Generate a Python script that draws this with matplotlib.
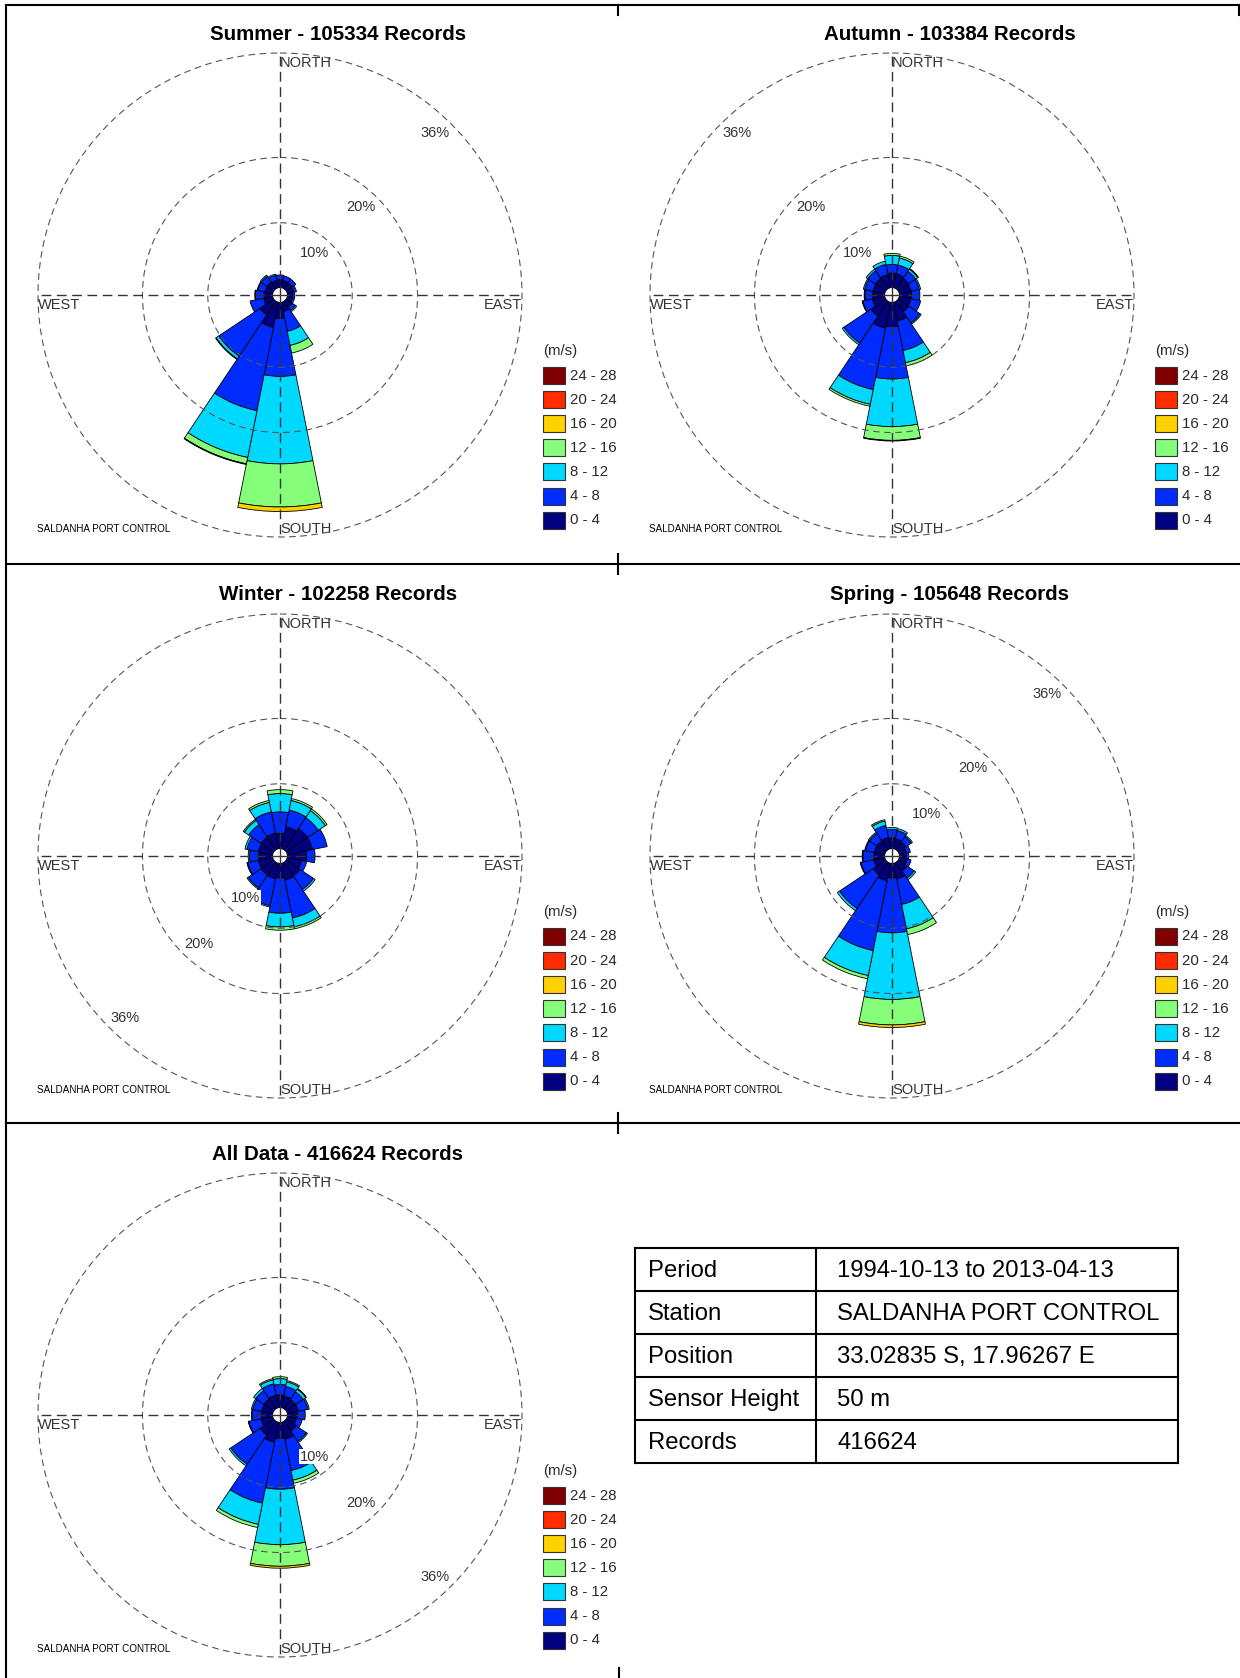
import numpy as np
import matplotlib
matplotlib.use('Agg')
import matplotlib.pyplot as plt
from matplotlib.transforms import offset_copy

plt.rcParams['font.family'] = ['Liberation Sans', 'DejaVu Sans']

W, H = 1240, 1678

directions = ['N', 'NNE', 'NE', 'ENE', 'E', 'ESE', 'SE', 'SSE',
              'S', 'SSW', 'SW', 'WSW', 'W', 'WNW', 'NW', 'NNW']
speed_bins = ['0 - 4', '4 - 8', '8 - 12', '12 - 16', '16 - 20', '20 - 24', '24 - 28']
rings = [10, 20, 36]

# frequency (%) : one row per speed bin, one column per direction (N clockwise)
summer = [
    [1.3, 1.2, 1.2, 1.1, 0.9, 0.9, 1.2, 1.5, 2.5, 4.0, 2.6, 1.5, 1.4, 1.3, 1.3, 1.2],
    [0.7, 0.7, 0.65, 0.4, 0.3, 0.3, 0.6, 3.1, 8.9, 13.0, 7.6, 2.1, 1.3, 1.1, 1.1, 0.8],
    [0, 0, 0, 0, 0, 0, 0.2, 2.2, 13.4, 7.3, 0.5, 0, 0.1, 0.1, 0.2, 0.2],
    [0, 0, 0, 0, 0, 0, 0, 1.2, 6.6, 1.0, 0.1, 0, 0, 0, 0, 0],
    [0, 0, 0, 0, 0, 0, 0, 0, 0.7, 0.1, 0, 0, 0, 0, 0, 0],
]
autumn = [
    [2.3, 2.2, 2.0, 1.9, 1.9, 1.9, 2.0, 3.0, 3.8, 4.1, 2.8, 2.0, 1.9, 1.9, 2.0, 2.1],
    [1.3, 1.4, 1.3, 1.3, 1.3, 1.5, 2.1, 4.6, 8.0, 9.6, 5.0, 1.5, 1.2, 1.3, 1.4, 1.6],
    [1.4, 1.1, 0.4, 0.2, 0, 0, 0.2, 1.9, 7.3, 2.3, 0.3, 0.1, 0.1, 0.2, 0.3, 0.5],
    [0.3, 0.3, 0.1, 0, 0, 0, 0, 0.5, 2.1, 0.3, 0, 0, 0, 0, 0, 0],
    [0, 0, 0, 0, 0, 0, 0, 0, 0.1, 0, 0, 0, 0, 0, 0, 0],
]
winter = [
    [2.4, 3.5, 4.0, 4.0, 3.0, 2.3, 2.6, 2.7, 2.3, 2.5, 2.4, 2.3, 2.2, 2.3, 2.4, 2.5],
    [3.3, 2.6, 2.0, 2.3, 1.3, 0.8, 2.5, 5.9, 5.4, 4.2, 2.4, 1.7, 1.4, 1.8, 2.3, 3.3],
    [2.8, 1.5, 1.3, 0, 0, 0, 0.3, 1.4, 2.1, 0.2, 0.2, 0.1, 0.2, 0.3, 0.8, 1.5],
    [0.6, 0.3, 0.3, 0, 0, 0, 0, 0.3, 0.5, 0, 0, 0, 0, 0, 0.2, 0.3],
    [0, 0, 0, 0, 0, 0, 0, 0, 0, 0, 0, 0, 0, 0, 0, 0],
]
spring = [
    [1.7, 1.6, 1.5, 1.2, 1.1, 1.3, 1.7, 2.5, 2.3, 2.8, 2.4, 1.8, 1.7, 1.7, 1.7, 1.8],
    [1.3, 1.3, 1.0, 0.6, 0.4, 0.6, 1.3, 4.0, 8.4, 10.9, 6.2, 2.0, 1.7, 1.4, 1.4, 1.9],
    [0.3, 0.3, 0.2, 0, 0, 0, 0.3, 3.8, 10.2, 3.9, 0.4, 0.1, 0.1, 0.1, 0.2, 0.7],
    [0, 0, 0, 0, 0, 0, 0, 0.9, 3.9, 0.5, 0, 0, 0, 0, 0, 0.2],
    [0, 0, 0, 0, 0, 0, 0, 0, 0.4, 0, 0, 0, 0, 0, 0, 0],
]
all_data = [
    [2.0, 1.9, 1.8, 1.8, 1.6, 1.5, 1.9, 2.7, 2.5, 3.2, 2.6, 1.9, 1.8, 1.8, 1.9, 2.0],
    [1.6, 1.5, 1.4, 1.5, 1.2, 0.9, 1.9, 4.9, 7.8, 9.5, 5.4, 1.9, 1.4, 1.4, 1.5, 1.8],
    [0.9, 0.7, 0.5, 0.2, 0, 0, 0.2, 1.5, 8.5, 3.3, 0.3, 0.1, 0.1, 0.2, 0.4, 0.6],
    [0.3, 0.2, 0.1, 0, 0, 0, 0, 0.5, 3.3, 0.5, 0, 0, 0, 0, 0, 0.2],
    [0, 0, 0, 0, 0, 0, 0, 0, 0.3, 0, 0, 0, 0, 0, 0, 0],
]

titles = ['Summer - 105334 Records', 'Autumn - 103384 Records',
          'Winter - 102258 Records', 'Spring - 105648 Records',
          'All Data - 416624 Records']
station = 'SALDANHA PORT CONTROL'

table_keys = ['Period', 'Station', 'Position', 'Sensor Height', 'Records']
table_vals = ['1994-10-13 to 2013-04-13', 'SALDANHA PORT CONTROL',
              '33.02835 S, 17.96267 E', '50 m', '416624']

# MATLAB style jet, 7 levels
colors = [(0, 0, 0.5), (0, 0.17, 1), (0, 0.85, 1), (0.52, 1, 0.48),
          (1, 0.82, 0), (1, 0.17, 0), (0.5, 0, 0)]

R_PX = 242          # pixel radius of the outer (36%) ring
HOLE = 1.07         # calm hole in the middle, in % units
RMAX = rings[-1]
txt_grey = '#2a2a2a'

fig = plt.figure(figsize=(W / 100, H / 100), dpi=100)

# overlay in pixel coordinates for frames, legends and the info table
ov = fig.add_axes([0, 0, 1, 1])
ov.set_xlim(0, W)
ov.set_ylim(H, 0)
ov.axis('off')


def draw_rose(cx, cy, title, freq, label_deg):
    ax = fig.add_axes([(cx - R_PX) / W, 1 - (cy + R_PX) / H, 2 * R_PX / W, 2 * R_PX / H],
                      projection='polar')
    ax.set_theta_zero_location('N')
    ax.set_theta_direction(-1)
    ax.set_ylim(0, RMAX)
    ax.set_rorigin(-HOLE)
    ax.axis('off')

    theta = np.deg2rad(np.arange(len(directions)) * 360 / len(directions))
    width = 2 * np.pi / len(directions)
    bottom = np.zeros(len(directions))
    for k, row in enumerate(freq):
        row = np.array(row, dtype=float)
        m = row > 0
        ax.bar(theta[m], row[m], width=width, bottom=bottom[m], color=colors[k],
               edgecolor='black', linewidth=0.6, align='center', zorder=2)
        bottom += row

    # dashed rings and cross
    t = np.linspace(0, 2 * np.pi, 400)
    for v in rings:
        ax.plot(t, np.full_like(t, v), color='#555555', lw=0.8,
                ls=(0, (6, 4)), clip_on=False, zorder=3)
    for d in [0, 90, 180, 270]:
        ax.plot([np.deg2rad(d)] * 2, [-HOLE, RMAX], color='#333333', lw=1.0,
                ls=(0, (7, 4)), clip_on=False, zorder=3)

    # ring labels sit on the diagonal, nudged towards the centre
    a = np.deg2rad(label_deg)
    dx = -16.5 * np.sign(np.sin(a))
    dy = -9.5 * np.sign(np.cos(a))
    for v in rings:
        ax.annotate(f'{v}%', xy=(a, v), xytext=(dx, dy), textcoords='offset pixels',
                    ha='center', va='center', fontsize=10.5, color='#333333',
                    zorder=4, annotation_clip=False,
                    bbox=dict(facecolor='white', edgecolor='none', pad=0.5))

    down = offset_copy(ax.transAxes, fig=fig, x=0, y=-3, units='dots')
    up = offset_copy(ax.transAxes, fig=fig, x=0, y=1, units='dots')
    kw = dict(fontsize=10.5, color='#333333', zorder=4)
    ax.text(0.5, 1.0, 'NORTH', ha='left', va='top', transform=down, **kw)
    ax.text(0.5, 0.0, 'SOUTH', ha='left', va='bottom', transform=up, **kw)
    ax.text(0.0, 0.5, 'WEST', ha='left', va='top', transform=down, **kw)
    ax.text(1.0, 0.5, 'EAST', ha='right', va='top', transform=down, **kw)

    ov.text(cx + 58, cy - 261, title, ha='center', va='center',
            fontsize=14.8, fontweight='bold', color='black')
    ov.text(cx - 243, cy + 234, station, ha='left', va='center',
            fontsize=7.1, color='black')

    # speed legend
    ov.text(cx + 263, cy + 56, '(m/s)', ha='left', va='center', fontsize=10.8, color=txt_grey)
    for i, k in enumerate(range(len(speed_bins) - 1, -1, -1)):
        yy = cy + 80.5 + i * 24.1
        ov.add_patch(plt.Rectangle((cx + 263, yy - 8.5), 22, 17, facecolor=colors[k],
                                   edgecolor='#333333', lw=0.8))
        ov.text(cx + 290, yy, speed_bins[k], ha='left', va='center',
                fontsize=10.8, color=txt_grey)


centres = [(280, 295), (892, 295), (280, 856), (892, 856), (280, 1415)]
datasets = [summer, autumn, winter, spring, all_data]
label_angles = [45, 315, 225, 45, 135]
for (cx, cy), title, freq, la in zip(centres, titles, datasets, label_angles):
    draw_rose(cx, cy, title, freq, la)

# page frame
lw_frame = 1.5
ov.plot([6, W], [4.5, 4.5], color='black', lw=lw_frame)
ov.plot([6, 6], [4.5, H], color='black', lw=lw_frame)
for y in [563.5, 1123]:
    ov.plot([6, W], [y, y], color='black', lw=lw_frame)
    ov.plot([618, 618], [y - 10, y + 10], color='black', lw=lw_frame)
ov.plot([618, 618], [4.5, 15], color='black', lw=lw_frame)
ov.plot([W - 1, W - 1], [4.5, 15], color='black', lw=lw_frame)
ov.plot([619, 619], [H - 10, H], color='black', lw=lw_frame)

# station info table
tx0, tx1, tsplit = 634.5, 1178, 816
ty0, row_h = 1247.5, 43
ty1 = ty0 + row_h * len(table_keys)
for i in range(len(table_keys) + 1):
    ov.plot([tx0, tx1], [ty0 + i * row_h] * 2, color='black', lw=1.5)
for x in [tx0, tsplit, tx1]:
    ov.plot([x, x], [ty0, ty1], color='black', lw=1.5)
for i, (k, v) in enumerate(zip(table_keys, table_vals)):
    yy = ty0 + (i + 0.5) * row_h + 2
    ov.text(648, yy, k, ha='left', va='center', fontsize=17.2, color='black')
    ov.text(837, yy, v, ha='left', va='center', fontsize=17.2, color='black')

fig.savefig('out.png', dpi=100)
